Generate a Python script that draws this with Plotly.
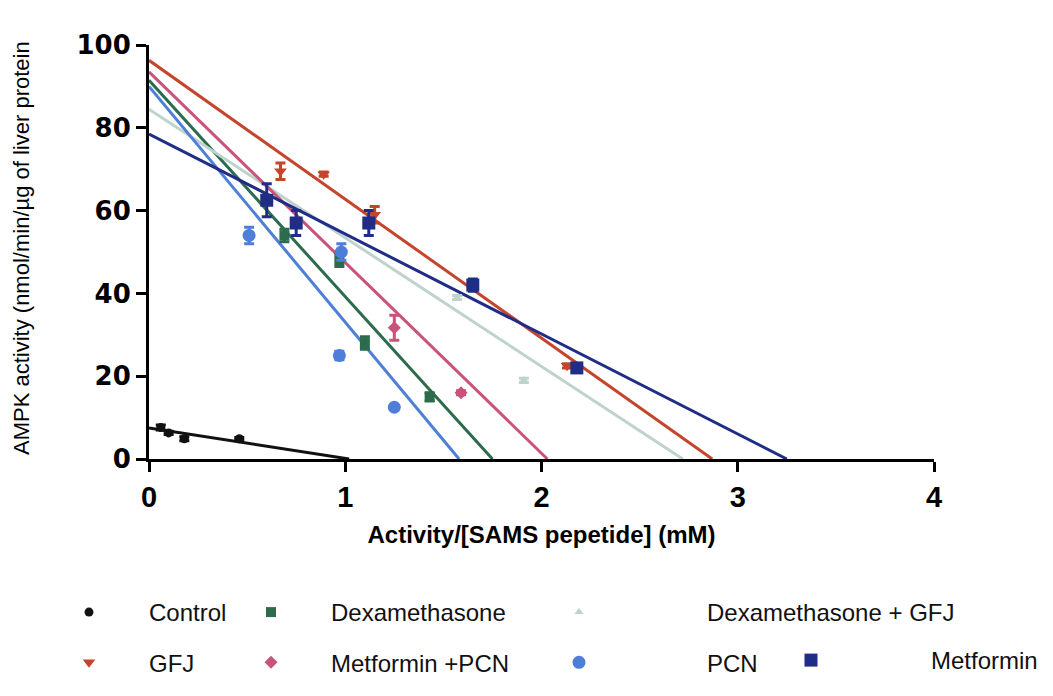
import plotly.graph_objects as go

# ---- data ----
series_names = ["Control", "Dexamethasone", "Dexamethasone + GFJ", "GFJ",
                "Metformin +PCN", "PCN", "Metformin"]

control_x = [0.06, 0.10, 0.18, 0.46]
control_y = [7.6, 6.3, 4.9, 4.9]
control_err = [0.6, 0.4, 0.5, 0.3]

dex_x = [0.69, 0.97, 1.10, 1.43]
dex_y = [54.0, 48.0, 28.0, 15.0]
dex_err = [1.5, 1.5, 1.5, 1.0]

dexgfj_x = [1.57, 1.91]
dexgfj_y = [39.0, 19.0]
dexgfj_err = [0.5, 0.5]

gfj_x = [0.67, 0.89, 1.15, 2.13]
gfj_y = [69.5, 68.8, 59.0, 22.5]
gfj_err = [2.0, 0.5, 2.0, 0.5]

mpcn_x = [1.25, 1.59]
mpcn_y = [31.7, 16.0]
mpcn_err = [3.0, 0.5]

pcn_x = [0.51, 0.98, 0.97, 1.25]
pcn_y = [54.0, 50.0, 25.0, 12.5]
pcn_err = [2.0, 2.0, 1.0, 0.5]

met_x = [0.60, 0.75, 1.12, 1.65, 2.18]
met_y = [62.5, 57.0, 57.0, 42.0, 22.0]
met_err = [4.0, 3.0, 3.0, 1.5, 1.0]

# linear fit lines: y-intercept and x-intercept of each series
fit_y0 = [7.5, 91.5, 84.5, 96.3, 93.5, 90.0, 78.5]
fit_x0 = [1.02, 1.75, 2.72, 2.87, 2.03, 1.58, 3.25]

x_ticks = [0, 1, 2, 3, 4]
y_ticks = [0, 20, 40, 60, 80, 100]

x_title = "Activity/[SAMS pepetide] (mM)"
y_title = "AMPK activity (nmol/min/µg of liver protein"

# ---- styles ----
colors = ["#111111", "#2c6b4c", "#bdd3cc", "#c4452c", "#c9537b", "#4e7fd8", "#1f2d86"]
symbols = ["circle", "square", "triangle-up", "triangle-down", "diamond", "circle", "square"]
sizes = [9, 10, 8, 11, 10, 13, 13]
legend_ids = ["legend", "legend2", "legend3", "legend", "legend2", "legend3", "legend4"]

xs = [control_x, dex_x, dexgfj_x, gfj_x, mpcn_x, pcn_x, met_x]
ys = [control_y, dex_y, dexgfj_y, gfj_y, mpcn_y, pcn_y, met_y]
errs = [control_err, dex_err, dexgfj_err, gfj_err, mpcn_err, pcn_err, met_err]

fig = go.Figure()

# fit lines
for i in range(len(series_names)):
    fig.add_trace(go.Scatter(
        x=[0, fit_x0[i]], y=[fit_y0[i], 0], mode="lines",
        line=dict(color=colors[i], width=3), showlegend=False, hoverinfo="skip",
        cliponaxis=False))

# points
for i, name in enumerate(series_names):
    fig.add_trace(go.Scatter(
        x=xs[i], y=ys[i], mode="markers", name=name,
        marker=dict(color=colors[i], symbol=symbols[i], size=sizes[i],
                    line=dict(width=0)),
        error_y=dict(type="data", array=errs[i], color=colors[i], thickness=3, width=5),
        legend=legend_ids[i], legendgroup=name, cliponaxis=False))

W, H = 1053, 696
leg_font = dict(family="Liberation Sans, Arial, sans-serif", size=24, color="#111")
row1_top = 582


def legend_cfg(xpx, toppx, iw):
    return dict(x=xpx / W, y=1 - toppx / H, xref="container", yref="container",
                xanchor="left", yanchor="top", orientation="v", itemwidth=iw,
                font=leg_font, tracegroupgap=16, bgcolor="rgba(0,0,0,0)")


# plot area in px: x 147..933, y 46..459 (after page offset)
L, T, R, B = 141, 37, 127, 245
pw, ph = W - L - R, H - T - B

fig.update_layout(
    width=W, height=H,
    paper_bgcolor="white", plot_bgcolor="white",
    margin=dict(l=L, r=R, t=T, b=B, autoexpand=False),
    showlegend=True,
    legend=legend_cfg(21, row1_top, 110),
    legend2=legend_cfg(203, row1_top, 110),
    legend3=legend_cfg(443, row1_top, 246),
    legend4=legend_cfg(683, row1_top + 48, 230),
    xaxis=dict(range=[0, 4], tickvals=x_ticks, showline=True, linewidth=3, linecolor="black",
               ticks="outside", ticklen=10, tickwidth=3, tickcolor="black",
               showgrid=False, zeroline=False, automargin=False,
               tickfont=dict(family="Liberation Sans, Arial, sans-serif", size=29,
                             color="black", weight="bold"),
               title=dict(text=x_title,
                          font=dict(family="Liberation Sans, Arial, sans-serif", size=24,
                                    color="black", weight="bold"))),
    yaxis=dict(range=[0, 100], tickvals=y_ticks, showline=True, linewidth=3, linecolor="black",
               ticks="outside", ticklen=10, tickwidth=3, tickcolor="black",
               showgrid=False, zeroline=False, automargin=False,
               tickfont=dict(family="DejaVu Sans, sans-serif", size=26,
                             color="black", weight="bold")),
    annotations=[dict(text=y_title, xref="paper", yref="paper",
                      x=(20 - 147) / pw, y=(459 - 248) / ph, textangle=-90,
                      showarrow=False, xanchor="center", yanchor="middle",
                      font=dict(family="Liberation Sans, Arial, sans-serif", size=22,
                                color="black"))],
)

fig.write_html("out.html")
